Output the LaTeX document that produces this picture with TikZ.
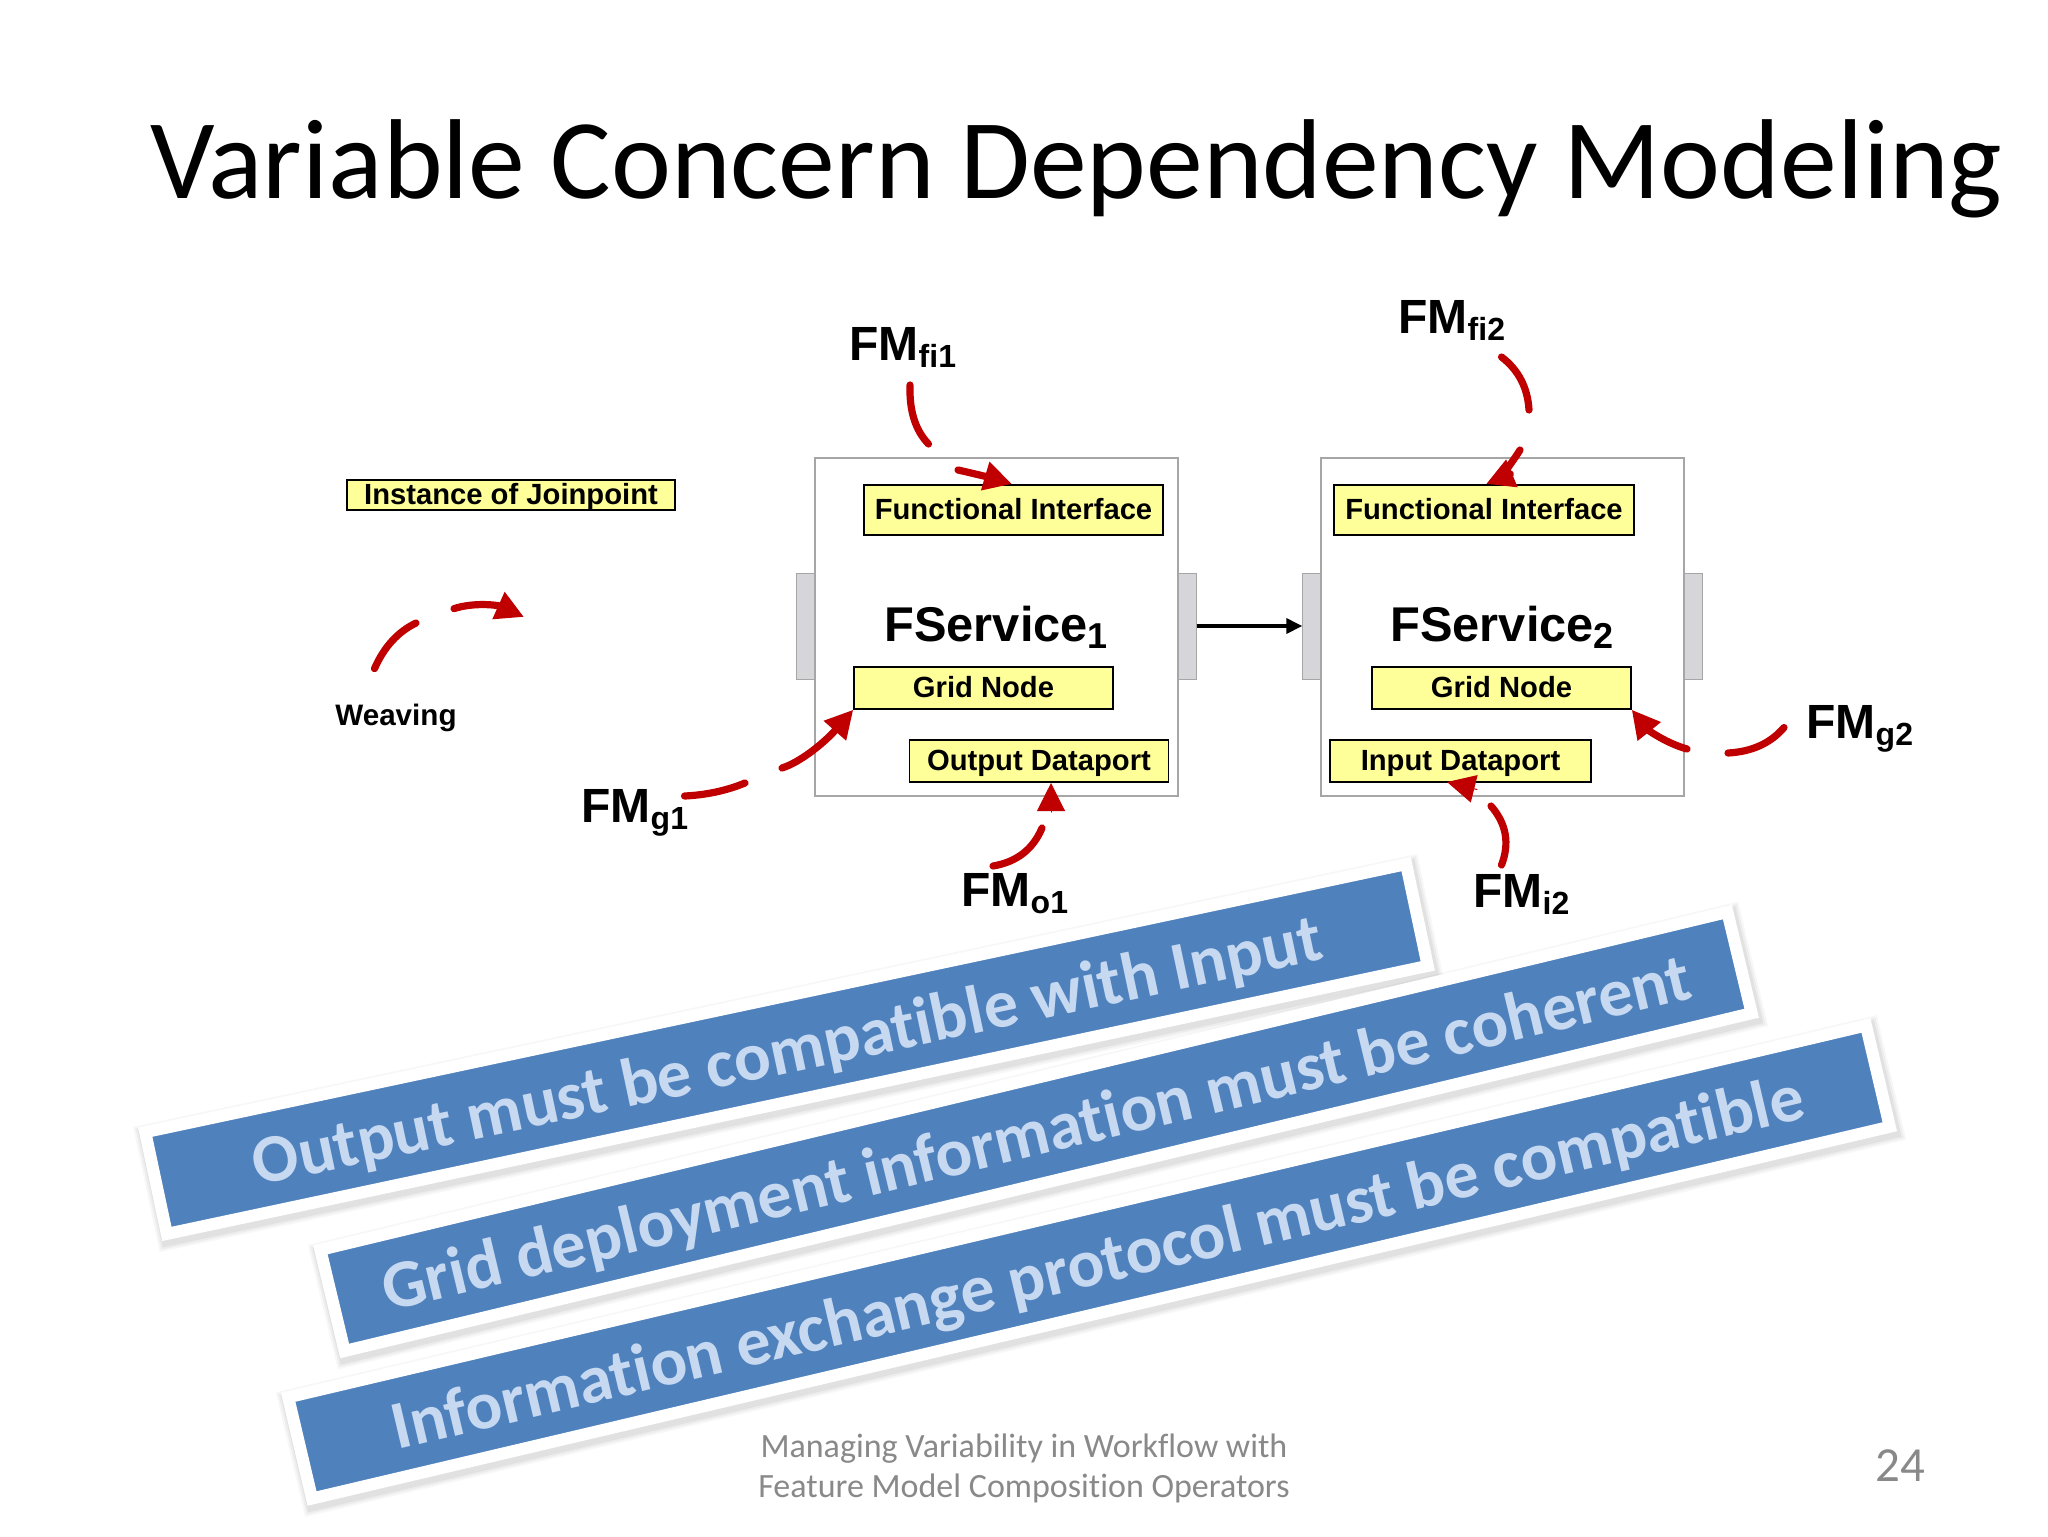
\documentclass[tikz,border=0pt]{standalone}
\usepackage{fontspec}
\setmainfont{Liberation Sans}
\newfontfamily\carl[Ligatures=CommonOff]{Carlito}
\usetikzlibrary{arrows.meta,shadows,calc}
\definecolor{arrred}{HTML}{C00000}
\definecolor{noteyellow}{HTML}{FFFF99}
\definecolor{portgray}{HTML}{D6D6DA}
\definecolor{edgegray}{HTML}{A6A6A6}
\definecolor{bannerblue}{HTML}{4F81BD}
\definecolor{bannertext}{HTML}{C6D9F1}
\definecolor{footgray}{HTML}{898989}
\newcommand\fmsub[2]{\fontsize{24}{28}\selectfont\bfseries #1{\fontsize{16}{18}\selectfont\raisebox{-3.6pt}{#2}}}
\newcommand\shadetext[1]{\raisebox{-12pt}[0pt][0pt]{#1}}
\newcommand\qarc[3]{(#1) .. controls ($(#1)!.667!(#2)$) and ($(#3)!.667!(#2)$) .. (#3)}
\tikzset{
  x=0.5pt,y=-0.5pt,
  service/.style={draw=edgegray,fill=white,line width=0.6pt,minimum width=181.5pt,minimum height=169pt,inner sep=0pt},
  port/.style={draw=edgegray,fill=portgray,line width=0.5pt,minimum width=9.2pt,minimum height=53pt,inner sep=0pt},
  note/.style={draw=black,fill=noteyellow,line width=0.7pt,inner sep=0pt,text height=10.6pt,text depth=1.4pt,font=\fontsize{14.6}{16}\selectfont\bfseries},
  fmlabel/.style={anchor=base west,inner sep=0pt},
  plain/.style={inner sep=0pt,font=\fontsize{14.8}{16}\selectfont\bfseries},
  redline/.style={draw=arrred,line width=3.6pt,line cap=round},
  redarrow/.style={draw=arrred,line width=3.6pt,line cap=round,-{Triangle[length=14pt,width=14pt,fill=arrred]}},
  softshadow/.style={
    general shadow={shadow xshift=1pt,shadow yshift=-2pt,fill=black,draw=black,line width=12pt,opacity=0.03},
    general shadow={shadow xshift=1pt,shadow yshift=-2pt,fill=black,draw=black,line width=10pt,opacity=0.04},
    general shadow={shadow xshift=1pt,shadow yshift=-2pt,fill=black,draw=black,line width=8pt,opacity=0.05}},
  banner/.style={draw=white,fill=bannerblue,line width=6pt,minimum height=52pt,inner sep=0pt,softshadow,
    font=\carl\fontsize{34.1}{38}\selectfont\bfseries,text=bannertext},
}
\begin{document}
\begin{tikzpicture}
\useasboundingbox (0,0) rectangle (2048,1536);
\node[anchor=base west,inner sep=0pt,font=\carl\fontsize{56.8}{64}\selectfont] (title) at (150,198.5) {Variable Concern Dependency Modeling};
% services
\node[port] (p1l) at (806,626) {};
\node[port] (p1r) at (1187,626) {};
\node[port] (p2l) at (1312,626) {};
\node[port] (p2r) at (1693,626) {};
\node[service] (s1) at (996.5,627) {};
\node[service] (s2) at (1502.5,627) {};
\node[fmlabel,font=\fontsize{24.4}{28}\selectfont\bfseries] (f1) at (884,641) {FService{\fontsize{18}{20}\selectfont\raisebox{-3.6pt}{1}}};
\node[fmlabel,font=\fontsize{24.4}{28}\selectfont\bfseries] (f2) at (1390,641) {FService{\fontsize{18}{20}\selectfont\raisebox{-3.6pt}{2}}};
\node[note,minimum width=149.5pt,minimum height=25pt] (fi1) at (1013.5,510) {Functional Interface};
\node[note,minimum width=129.5pt,minimum height=21pt] (grid1) at (983.5,688) {Grid Node};
\node[note,minimum width=129.75pt,minimum height=21pt] (out1) at (1039,761) {Output Dataport};
\node[note,minimum width=150pt,minimum height=25pt] (fi2) at (1484,510) {Functional Interface};
\node[note,minimum width=129.5pt,minimum height=21pt] (grid2) at (1501.5,688) {Grid Node};
\node[note,minimum width=130.5pt,minimum height=21pt] (in2) at (1460.5,761) {Input Dataport};
\node[note,minimum width=164pt,minimum height=15pt] (inst) at (511,495) {Instance of Joinpoint};
\node[plain] (weav) at (396,717.5) {Weaving};
\draw[line width=1.8pt,-{Triangle[length=8pt,width=7.5pt]}] (p1r.east) -- (p2l.west);
% labels
\node[fmlabel] (fmfi1) at (849,360) {\fmsub{FM}{fi1}};
\node[fmlabel] (fmg1) at (581,822) {\fmsub{FM}{g1}};
\node[fmlabel] (fmo1) at (961,906) {\fmsub{FM}{o1}};
\node[fmlabel] (fmfi2) at (1398,333) {\fmsub{FM}{fi2}};
\node[fmlabel] (fmg2) at (1806,738) {\fmsub{FM}{g2}};
\node[fmlabel] (fmi2) at (1473,907) {\fmsub{FM}{i2}};
% free ends of the dashed red arcs
\coordinate (a1) at (910,385); \coordinate (a2) at (928.5,444);
\coordinate (a3) at (958,470); \coordinate (a4) at (1012,484);
\coordinate (w1) at (374.5,668.6); \coordinate (w2) at (416,623);
\coordinate (w3) at (454,608.6); \coordinate (w4) at (524,617);
\coordinate (b1) at (684.5,796); \coordinate (b2) at (745,783);
\coordinate (b3) at (782,768);
\coordinate (c1) at (993,866); \coordinate (c2) at (1042,828);
\coordinate (c3) at (1051,812); \coordinate (c4) at (1051,783);
\coordinate (d1) at (1501.5,357); \coordinate (d2) at (1529,410);
\coordinate (d3) at (1520,450); \coordinate (d4) at (1486,484);
\coordinate (e1) at (1784,727.5); \coordinate (e2) at (1728,753);
\coordinate (e3) at (1687,749);
\coordinate (g1) at (1501.5,865); \coordinate (g2) at (1491,806);
\coordinate (g3) at (1477,789.5); \coordinate (g4) at (1447,782);
\draw[redline] \qarc{a1}{908.75,423.5}{a2};
\draw[redarrow] \qarc{a3}{985,476}{a4};
\draw[redline] \qarc{w1}{388.75,636.2}{w2};
\draw[redarrow] \qarc{w3}{484,599}{w4};
\draw[redline] \qarc{b1}{717,794.5}{b2};
\draw[redarrow] \qarc{b3}{810,759}{grid1.south west};
\draw[redline] \qarc{c1}{1028.5,860}{c2};
\draw[redarrow,line width=0.5pt] (c3) -- (c4);
\draw[redline] \qarc{d1}{1527,376.5}{d2};
\draw[redarrow] \qarc{d3}{1503,477}{d4};
\draw[redline] \qarc{e1}{1764,751}{e2};
\draw[redarrow] \qarc{e3}{1656.5,740.5}{grid2.south east};
\draw[redline] \qarc{g1}{1514,832.5}{g2};
\draw[redarrow,line width=0.5pt] (g3) -- (g4);
% banners
\node[banner,rotate=12,minimum width=644.5pt] (ban1) at (786.5,1049) {\shadetext{Output must be compatible with Input}};
\node[banner,rotate=13.5,minimum width=723.5pt] (ban2) at (1036,1131.5) {\shadetext{Grid deployment information must be coherent}};
\node[banner,rotate=13.26,minimum width=810.5pt] (ban3) at (1089,1262) {\hspace*{8pt}\shadetext{Information exchange protocol must be compatible}};
% footer
\node[inner sep=0pt,align=center,text=footgray,font=\carl\fontsize{17}{20.2}\selectfont] (foot) at (1024,1468.5) {Managing Variability in Workflow with\\Feature Model Composition Operators};
\node[inner sep=0pt,text=footgray,font=\carl\fontsize{24.5}{28}\selectfont] (num) at (1900,1466) {24};
\end{tikzpicture}
\end{document}
